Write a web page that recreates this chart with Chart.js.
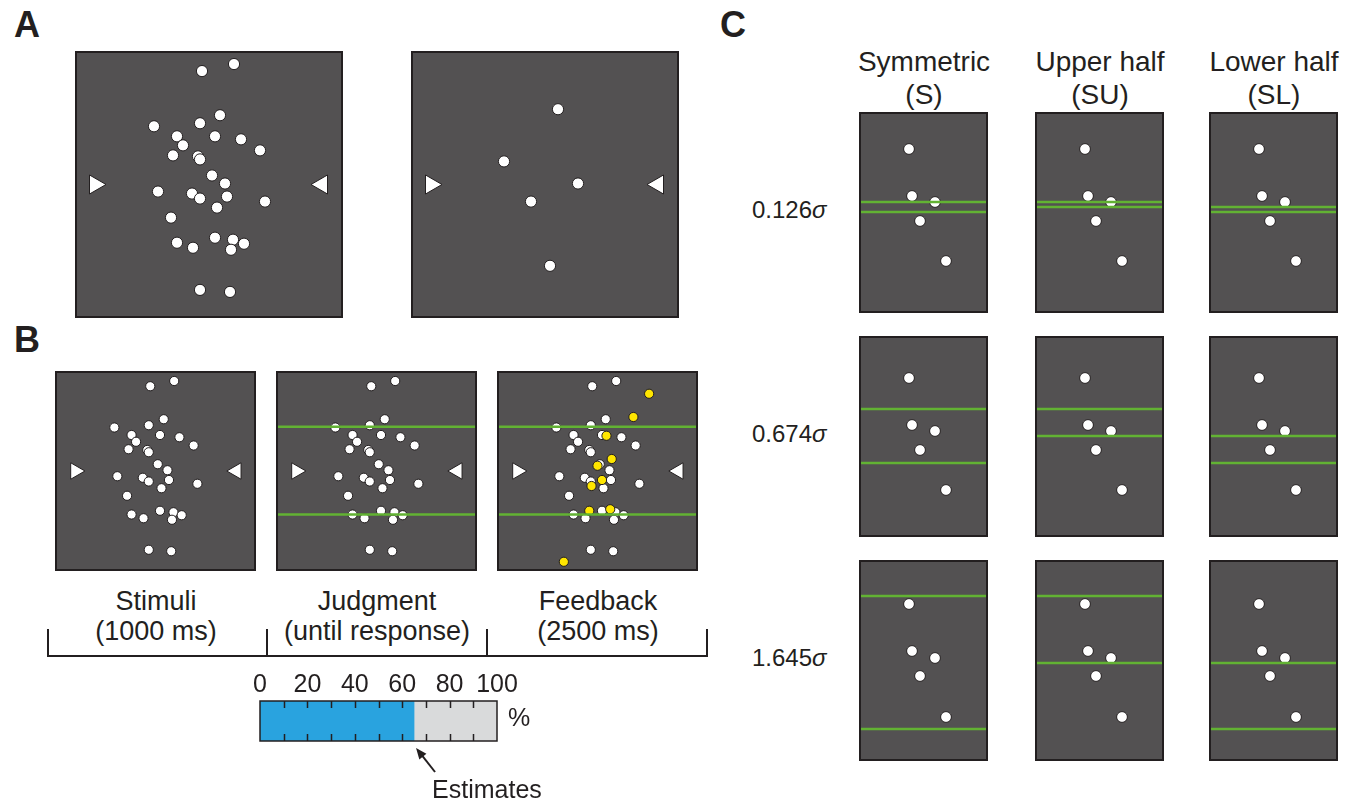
<!DOCTYPE html>
<html>
<head>
<meta charset="utf-8">
<script src="https://cdn.jsdelivr.net/npm/chart.js@4.4.1/dist/chart.umd.min.js"></script>
<style>
  body { margin: 0; background: #fff; }
  #fig { position: relative; width: 1358px; height: 803px; overflow: hidden;
         font-family: "Liberation Sans", Arial, sans-serif; color: #231f20; }
  .txt { position: absolute; white-space: nowrap; transform: translate(-50%, -50%); text-align: center; }
  .letter { position: absolute; font-weight: bold; font-size: 36px; transform: translate(-50%, -50%); }
  .rule { position: absolute; background: #231f20; }
</style>
</head>
<body>
<div id="fig"></div>
<script>
// dense stimulus (30 dots), frame units 0..266 x 0..264, y down
const denseX = [126, 158, 144, 78, 124, 101, 139, 165, 107, 184, 97, 122, 124, 136, 149, 82, 116, 124, 151, 189, 141, 95, 101, 117, 139, 157, 168, 155, 124, 154];
const denseY = [19, 12, 63, 74, 71, 84, 84, 87, 93, 98, 103, 104, 107, 123, 131, 139, 141, 146, 144, 149, 155, 165, 190, 195, 185, 187, 191, 197, 237, 239];

// sparse stimulus (5 dots)
const sparseX = [146, 92, 166, 119, 138];
const sparseY = [57, 109, 131, 149, 213];

// fixation cues at the sides
const cueX_A = [19, 246];
const cueX_B = [26, 241];
const cueY = 132;

// participant's boundary lines and the feedback dots (inside the range)
const judgeLines = [73, 190];
const feedbackX = [202, 181, 145, 152, 133, 139, 125, 122, 150, 88];
const feedbackY = [29, 60, 85, 116, 125, 144, 152, 185, 183, 253];

const phaseNames = ['Stimuli', 'Judgment', 'Feedback'];
const phaseTimes = ['(1000 ms)', '(until response)', '(2500 ms)'];

// response bar
const estimate = 65;
const scaleTicks = [0, 20, 40, 60, 80, 100];
const minorTicks = [10, 20, 30, 40, 50, 60, 70, 80, 90];

// panel C: 5-dot example, one row per range width
const condNames = ['Symmetric', 'Upper half', 'Lower half'];
const condCodes = ['(S)', '(SU)', '(SL)'];
const sigmaLabels = ['0.126', '0.674', '1.645'];
const cDotsX = [49, 52, 75, 60, 86];
const cDotsY = [[36, 83, 89, 108, 148], [41, 88, 94, 113, 153], [43, 90, 97, 115, 156]];
const linesS = [[89, 99], [72, 126], [35, 168]];
const linesSU = [[89, 94], [72, 99], [35, 102]];
const linesSL = [[94, 99], [99, 126], [102, 168]];

const INK = '#231f20';
const FRAME = '#535152';
const GREEN = '#62b233';
const fig = document.getElementById('fig');

function addCanvas(left, top, w, h) {
  const c = document.createElement('canvas');
  c.width = w; c.height = h;
  c.style.cssText = `position:absolute;left:${left}px;top:${top}px;width:${w}px;height:${h}px`;
  fig.appendChild(c);
  return c;
}

function addText(html, x, y, size, cls) {
  const d = document.createElement('div');
  d.className = cls || 'txt';
  d.style.left = x + 'px';
  d.style.top = y + 'px';
  if (size) d.style.fontSize = size + 'px';
  d.innerHTML = html;
  fig.appendChild(d);
  return d;
}

function addRule(left, top, w, h) {
  const d = document.createElement('div');
  d.className = 'rule';
  d.style.cssText += `left:${left}px;top:${top}px;width:${w}px;height:${h}px`;
  fig.appendChild(d);
}

// grey display frame behind the points, dark outline on top
const framePlugin = {
  id: 'frame',
  beforeDatasetsDraw(chart) {
    const { ctx, chartArea: a } = chart;
    ctx.save();
    ctx.fillStyle = FRAME;
    ctx.fillRect(a.left, a.top, a.width, a.height);
    ctx.restore();
  },
  afterDatasetsDraw(chart) {
    const { ctx, chartArea: a } = chart;
    ctx.save();
    ctx.strokeStyle = INK;
    ctx.lineWidth = 2;
    ctx.strokeRect(a.left, a.top, a.width, a.height);
    ctx.restore();
  }
};

const PAD = 4;
function stimulusChart(box, xMax, yMax, datasets) {
  const c = addCanvas(box.left - PAD, box.top - PAD, box.w + 2 * PAD, box.h + 2 * PAD);
  return new Chart(c, {
    type: 'scatter',
    data: { datasets },
    options: {
      responsive: false,
      animation: false,
      events: [],
      layout: { padding: PAD, autoPadding: false },
      plugins: { legend: { display: false }, tooltip: { enabled: false } },
      scales: {
        x: { display: false, min: 0, max: xMax },
        y: { display: false, min: 0, max: yMax, reverse: true }
      }
    },
    plugins: [framePlugin]
  });
}

function dots(xs, ys, r, fill, order) {
  return {
    data: xs.map((x, i) => ({ x, y: ys[i] })),
    pointRadius: r, pointBackgroundColor: fill,
    pointBorderColor: INK, pointBorderWidth: 1,
    clip: false, order: order
  };
}

function cues(xs, r) {
  return {
    data: xs.map(x => ({ x, y: cueY })),
    pointStyle: 'triangle', pointRotation: [90, 270],
    pointRadius: r, pointBackgroundColor: '#fff',
    pointBorderColor: INK, pointBorderWidth: 1,
    clip: false, order: 3
  };
}

function boundary(y, xMax) {
  return {
    data: [{ x: 0, y }, { x: xMax, y }],
    showLine: true, borderColor: GREEN, borderWidth: 2.5,
    pointRadius: 0, order: 0
  };
}

// ---- A ----
addText('A', 27, 25, null, 'letter');
stimulusChart({ left: 76, top: 52, w: 266, h: 265 }, 266, 264, [
  dots(denseX, denseY, 5.6, '#fff', 2), cues(cueX_A, 11)
]);
stimulusChart({ left: 412, top: 52, w: 266, h: 265 }, 266, 264, [
  dots(sparseX, sparseY, 5.6, '#fff', 2), cues(cueX_A, 11)
]);

// ---- B ----
addText('B', 27, 340, null, 'letter');
const bLefts = [56, 277, 498];
bLefts.forEach((left, k) => {
  const ds = [dots(denseX, denseY, 4.6, '#fff', 2), cues(cueX_B, 9.5)];
  if (k > 0) judgeLines.forEach(y => ds.push(boundary(y, 266)));
  if (k === 2) ds.push(dots(feedbackX, feedbackY, 4.6, '#ffe600', 1));
  stimulusChart({ left, top: 372, w: 199, h: 198 }, 266, 264, ds);
  addText(phaseNames[k], left + 100, 601, 27);
  addText(phaseTimes[k], left + 100, 631, 27);
});

// timeline bracket
addRule(47, 655, 661, 2);
[47, 266, 486, 706].forEach(x => addRule(x, 629, 2, 28));

// response bar
const barPlugin = {
  id: 'barFrame',
  afterDatasetsDraw(chart) {
    const { ctx, chartArea: a, scales } = chart;
    ctx.save();
    ctx.strokeStyle = INK;
    ctx.lineWidth = 1.5;
    minorTicks.forEach(v => {
      const x = Math.round(scales.x.getPixelForValue(v)) + 0.5;
      ctx.beginPath();
      ctx.moveTo(x, a.top); ctx.lineTo(x, a.top + 7);
      ctx.moveTo(x, a.bottom); ctx.lineTo(x, a.bottom - 7);
      ctx.stroke();
    });
    ctx.strokeRect(a.left, a.top, a.width, a.height);
    // arrow pointing at the estimate
    const xe = scales.x.getPixelForValue(estimate);
    const tip = { x: xe + 2, y: a.bottom + 7 };
    const tail = { x: xe + 21, y: a.bottom + 31 };
    const ang = Math.atan2(tip.y - tail.y, tip.x - tail.x);
    ctx.lineWidth = 2;
    ctx.beginPath();
    ctx.moveTo(tail.x, tail.y);
    ctx.lineTo(tip.x - 6 * Math.cos(ang), tip.y - 6 * Math.sin(ang));
    ctx.stroke();
    ctx.fillStyle = INK;
    ctx.beginPath();
    ctx.moveTo(tip.x, tip.y);
    ctx.lineTo(tip.x - 11 * Math.cos(ang) + 4.5 * Math.sin(ang), tip.y - 11 * Math.sin(ang) - 4.5 * Math.cos(ang));
    ctx.lineTo(tip.x - 11 * Math.cos(ang) - 4.5 * Math.sin(ang), tip.y - 11 * Math.sin(ang) + 4.5 * Math.cos(ang));
    ctx.closePath();
    ctx.fill();
    ctx.restore();
  }
};

new Chart(addCanvas(230, 669, 320, 111), {
  type: 'bar',
  data: {
    labels: [''],
    datasets: [
      { data: [estimate], backgroundColor: '#29a3df' },
      { data: [100 - estimate], backgroundColor: '#d9dadb' }
    ]
  },
  options: {
    indexAxis: 'y',
    responsive: false,
    animation: false,
    events: [],
    layout: { padding: { left: 30, right: 53, top: 0, bottom: 39 } },
    datasets: { bar: { barPercentage: 1, categoryPercentage: 1, borderWidth: 0 } },
    plugins: { legend: { display: false }, tooltip: { enabled: false } },
    scales: {
      x: {
        position: 'top', stacked: true, min: 0, max: 100,
        afterBuildTicks: axis => { axis.ticks = scaleTicks.map(v => ({ value: v })); },
        grid: { display: false, drawTicks: false },
        border: { display: false },
        ticks: { color: INK, padding: 1, maxRotation: 0, font: { size: 25, family: '"Liberation Sans", Arial, sans-serif' } }
      },
      y: { display: false, stacked: true }
    }
  },
  plugins: [barPlugin]
});
addText('%', 519, 717, 25);
addText('Estimates', 487, 789, 25);

// ---- C ----
addText('C', 733, 25, null, 'letter');
const cLefts = [860, 1036, 1210];
const cTops = [113, 337, 561];
const cLines = [linesS, linesSU, linesSL];
cLefts.forEach((left, col) => {
  addText(condNames[col], left + 64, 62, 28);
  addText(condCodes[col], left + 64, 95, 28);
  cTops.forEach((top, row) => {
    const ds = [dots(cDotsX, cDotsY[row], 5.4, '#fff', 2)];
    cLines[col][row].forEach(y => ds.push(boundary(y, 127)));
    stimulusChart({ left, top, w: 127, h: 199 }, 127, 199, ds);
  });
});
sigmaLabels.forEach((s, row) => {
  const d = addText(s + '<i>σ</i>', 752, cTops[row] + 97, 24);
  d.style.transform = 'translate(0, -50%)';
});
</script>
</body>
</html>
